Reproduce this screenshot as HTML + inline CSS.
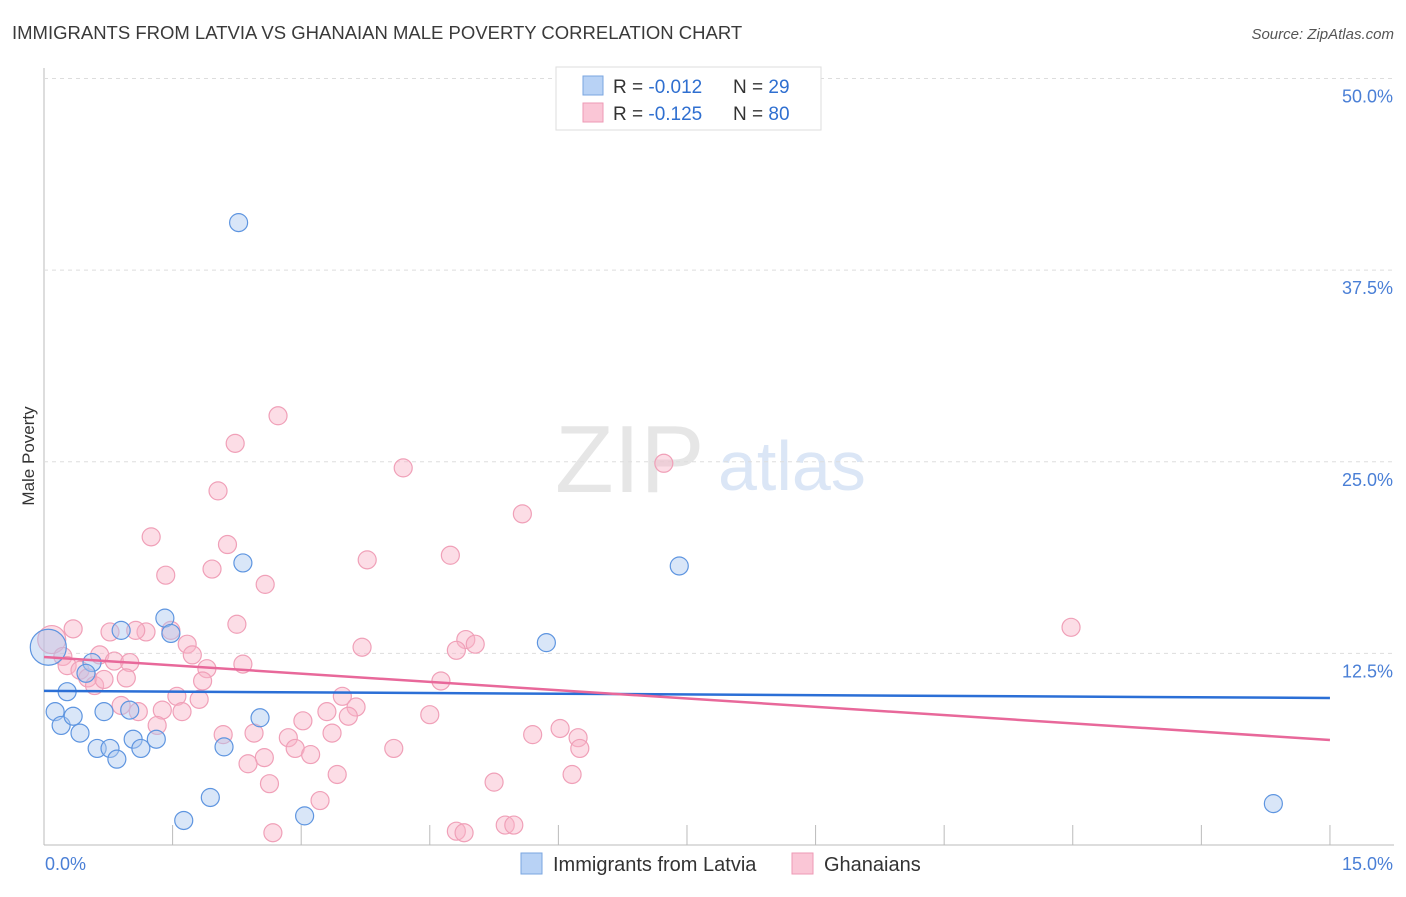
<!DOCTYPE html>
<html><head><meta charset="utf-8"><style>
body{margin:0;background:#fff;font-family:"Liberation Sans",sans-serif}
svg text{font-family:"Liberation Sans",sans-serif}
</style></head><body>
<svg id="c" width="1406" height="892">
<text x="12" y="39" font-size="18.5" fill="#3a3a3a">IMMIGRANTS FROM LATVIA VS GHANAIAN MALE POVERTY CORRELATION CHART</text>
<text x="1394" y="39" font-size="15" fill="#555" text-anchor="end" font-style="italic">Source: ZipAtlas.com</text>
<text x="34" y="456" font-size="17" fill="#333" transform="rotate(-90 34 456)" text-anchor="middle">Male Poverty</text>
<text x="555" y="492" font-size="96" fill="#e6e6e6" font-family="Liberation Serif">ZIP</text>
<text x="718" y="490" font-size="70" fill="#dbe6f6">atlas</text>
<g id="grid"></g><g id="pts"></g><g id="lines"></g>
<g>
<rect x="556" y="67" width="265" height="63" fill="#fff" stroke="#ddd"/>
<rect x="583" y="76" width="20" height="19" fill="#b8d2f5" stroke="#7aa6e0"/>
<rect x="583" y="103" width="20" height="19" fill="#fac6d6" stroke="#ee9ab5"/>
<text x="613" y="93" font-size="19" fill="#333">R = <tspan fill="#2f6fd0">-0.012</tspan><tspan x="733">N = </tspan><tspan fill="#2f6fd0">29</tspan></text>
<text x="613" y="120" font-size="19" fill="#333">R = <tspan fill="#2f6fd0"> -0.125</tspan><tspan x="733">N = </tspan><tspan fill="#2f6fd0">80</tspan></text>
</g>
<g>
<rect x="521" y="853" width="21" height="21" fill="#b8d2f5" stroke="#7aa6e0"/>
<text x="553" y="871" font-size="20" fill="#333">Immigrants from Latvia</text>
<rect x="792" y="853" width="21" height="21" fill="#fac6d6" stroke="#ee9ab5"/>
<text x="824" y="871" font-size="20" fill="#333">Ghanaians</text>
</g>
</svg>
<script>
const yTicks=[12.5,25,37.5,50];
const yTickLabels=["12.5%","25.0%","37.5%","50.0%"];
const xTicks=[0,1.5,3,4.5,6,7.5,9,10.5,12,13.5,15];
const latviaX=[2.27,2.32,7.41,5.86,1.41,1.48,0.90,0.56,0.27,0.49,0.13,0.20,0.34,0.42,0.70,1.00,0.62,0.77,0.85,1.04,1.13,1.31,2.10,2.52,1.94,1.63,3.04,14.34,0.05];
const latviaY=[40.6,18.4,18.2,13.2,14.8,13.8,14.0,11.9,10.0,11.2,8.7,7.8,8.4,7.3,8.7,8.8,6.3,6.3,5.6,6.9,6.3,6.9,6.4,8.3,3.1,1.6,1.9,2.7,12.9];
const ghX=[2.73,2.23,4.19,7.23,2.03,5.58,1.25,2.14,4.74,3.77,1.96,1.42,2.58,11.98,1.48,1.19,2.25,0.34,0.77,1.07,4.92,5.03,1.67,3.71,4.81,0.09,0.22,0.27,0.65,0.82,1.00,1.73,2.32,1.90,0.42,0.51,0.59,0.70,0.96,1.85,4.63,1.55,1.81,3.48,1.38,1.61,0.90,1.10,3.64,3.30,3.55,3.02,4.50,1.32,2.09,2.45,2.85,3.36,5.70,6.02,6.23,6.25,2.93,3.11,2.57,4.08,2.38,3.42,6.16,2.63,5.25,3.22,2.67,4.81,4.90,5.38,5.48];
const ghY=[28.0,26.2,24.6,24.9,23.1,21.6,20.1,19.6,18.9,18.6,18.0,17.6,17.0,14.2,14.0,13.9,14.4,14.1,13.9,14.0,13.4,13.1,13.1,12.9,12.7,13.4,12.3,11.7,12.4,12.0,11.9,12.4,11.8,11.5,11.4,10.9,10.4,10.8,10.9,10.7,10.7,9.7,9.5,9.7,8.8,8.7,9.1,8.7,9.0,8.7,8.4,8.1,8.5,7.8,7.2,7.3,7.0,7.3,7.2,7.6,7.0,6.3,6.3,5.9,5.7,6.3,5.3,4.6,4.6,4.0,4.1,2.9,0.8,0.9,0.8,1.3,1.3];
const trendX=[0,15];
const latviaTrend=[10.05,9.59];
const ghTrend=[12.26,6.85];
const X=v=>44+v*85.73, Y=v=>845-v*15.33;
const NS="http://www.w3.org/2000/svg";
function mk(t,a,p){const e=document.createElementNS(NS,t);for(const k in a)e.setAttribute(k,a[k]);p.appendChild(e);return e;}
const grid=document.getElementById('grid'),pts=document.getElementById('pts'),lines=document.getElementById('lines');
let ax=mk('line',{x1:44,y1:68,x2:44,y2:845,stroke:'#bbb'},grid);


let bx=mk('line',{x1:44,y1:845,x2:1394,y2:845,stroke:'#bbb'},grid);


yTicks.forEach((v,i)=>{
 const g=mk('line',{x1:44,y1:Y(v),x2:1394,y2:Y(v),stroke:'#ddd','stroke-dasharray':'4,4'},grid);
 
 
 const t=mk('text',{x:1393,y:Y(v)+24,'font-size':18,fill:'#4a7fd6','text-anchor':'end'},grid);
 t.textContent=yTickLabels[i];
 
 
});
xTicks.forEach(v=>{
 const l=mk('line',{x1:X(v),y1:825,x2:X(v),y2:845,stroke:'#bbb'},grid);
 
 
});
[["0.0%",45,'start'],["15.0%",1393,'end']].forEach(a=>{
 const t=mk('text',{x:a[1],y:870,'font-size':18,fill:'#4a7fd6','text-anchor':a[2]},grid);
 t.textContent=a[0];
 
 
});
ghX.forEach((v,i)=>{
 const c=mk('circle',{cx:X(v),cy:Y(ghY[i]),r:i==25?14:9,fill:'rgba(248,180,200,0.45)',stroke:'#f0a0b8','stroke-width':1.2},pts);
 
 
});
latviaX.forEach((v,i)=>{
 const c=mk('circle',{cx:X(v),cy:Y(latviaY[i]),r:i==28?18:9,fill:'rgba(170,200,240,0.45)',stroke:'#5e95e0','stroke-width':1.2},pts);
 
 
});
let l1=mk('line',{x1:X(trendX[0]),y1:Y(latviaTrend[0]),x2:X(trendX[1]),y2:Y(latviaTrend[1]),stroke:'#2b6fd6','stroke-width':2.5},lines);


let l2=mk('line',{x1:X(trendX[0]),y1:Y(ghTrend[0]),x2:X(trendX[1]),y2:Y(ghTrend[1]),stroke:'#e8689a','stroke-width':2.5},lines);


</script>
</body></html>
